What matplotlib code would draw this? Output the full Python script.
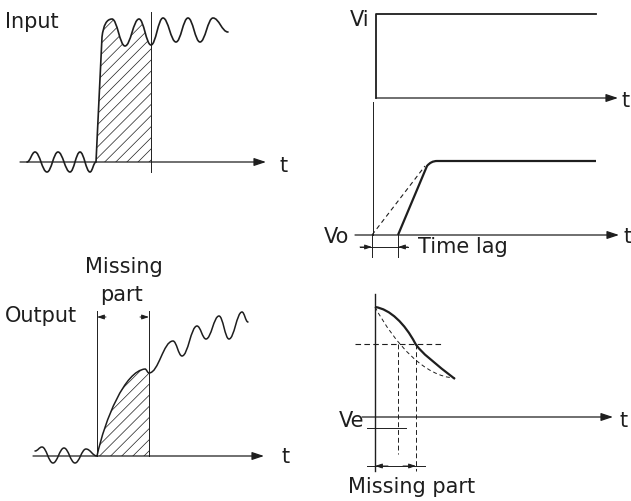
import matplotlib.pyplot as plt
from matplotlib.path import Path
from matplotlib.patches import PathPatch

# picture data, pixel coordinates (y grows downwards)
# left top: input signal
in_base = 163
in_cut = 151
in_pre = [(27, 163), (35, 153), (47, 173), (58, 153), (70, 173), (80, 153), (90, 173), (96, 163)]
in_rise = [(102, 38), (104, 20), (112, 20)]
in_top = [(112, 20), (125, 47), (139, 20), (151, 46)]
in_post = [(151, 46), (163, 19), (176, 43), (188, 19), (200, 43), (213, 19), (228, 33)]

# left bottom: output signal
out_base = 457
out_gap = [97, 149]
out_pre = [(35, 452), (42, 448), (53, 464), (64, 449), (75, 464), (86, 450), (97, 457)]
out_rise = [(105, 420), (125, 372), (145, 370)]
out_top = [(145, 370), (149, 374)]
out_post = [(149, 374), (173, 342), (182, 357), (197, 327), (206, 340), (219, 317),
            (229, 340), (242, 313), (248, 323)]

# right top: step response
vi_level, vi_base = 15, 99
vo_level, vo_base = 162, 236
vo_start, vo_lag = 372, 398
vo_knee = [(427, 167), (431, 162), (437, 162)]
step_end = 596

# right bottom: decay
ve_base = 418
ve_start = (375, 308)
decay_solid = [[(390, 310), (405, 325), (415, 344)], [(420, 353), (437, 366), (455, 380)]]
decay_dash = [[(395, 345), (425, 378), (455, 379)]]
ve_level = 345
ve_cross = [398, 416]

INK = "#1e1e1e"
FONT = dict(family="DejaVu Sans", fontsize=15, color=INK)


def wave(verts, codes, pts, k=0.4):
    # smooth run through extrema, flat tangent at each point
    for (x0, y0), (x1, y1) in zip(pts[:-1], pts[1:]):
        d = (x1 - x0) * k
        verts += [(x0 + d, y0), (x1 - d, y1), (x1, y1)]
        codes += [Path.CURVE4] * 3


def arrow(ax, x0, y0, x1, y1, lw=0.9, ms=12, style="-|>,head_length=0.6,head_width=0.2"):
    ax.annotate("", xy=(x1, y1), xytext=(x0, y0),
                arrowprops=dict(arrowstyle=style, lw=lw, color=INK, mutation_scale=ms,
                                shrinkA=0, shrinkB=0))


fig = plt.figure(figsize=(6.31, 5.02), dpi=100)
ax = fig.add_axes([0, 0, 1, 1])
ax.set_xlim(0, 631)
ax.set_ylim(502, 0)
ax.axis("off")
plt.rcParams["hatch.linewidth"] = 0.5
plt.rcParams["hatch.color"] = INK

# ---- input ----
v, c = [in_pre[0]], [Path.MOVETO]
wave(v, c, in_pre)
v.append(in_rise[0]); c.append(Path.LINETO)
v += in_rise[1:]; c += [Path.CURVE3] * 2
wave(v, c, in_top)
hv, hc = list(v), list(c)
wave(v, c, in_post)
ax.add_patch(PathPatch(Path(v, c), fill=False, lw=1.2, ec=INK, capstyle="round"))
start = len(in_pre) * 3 - 2
hv = [(in_pre[-1][0], in_base)] + hv[start:] + [(in_cut, in_base), (0, 0)]
hc = [Path.MOVETO] + hc[start:] + [Path.LINETO, Path.CLOSEPOLY]
ax.add_patch(PathPatch(Path(hv, hc), fc="none", ec=INK, lw=0, hatch="///"))
arrow(ax, 20, in_base, 266, in_base)
ax.plot([in_cut, in_cut], [13, 173], color=INK, lw=0.7)
ax.text(5, 28, "Input", **FONT)
ax.text(279, 172, "t", **FONT)

# ---- output ----
v, c = [out_pre[0]], [Path.MOVETO]
wave(v, c, out_pre)
v += out_rise; c += [Path.CURVE4] * 3
wave(v, c, out_top)
hv, hc = list(v), list(c)
wave(v, c, out_post)
ax.add_patch(PathPatch(Path(v, c), fill=False, lw=1.1, ec=INK, capstyle="round"))
start = len(out_pre) * 3 - 2
hv = [(out_gap[0], out_base)] + hv[start:] + [(out_gap[1], out_base), (0, 0)]
hc = [Path.MOVETO] + hc[start:] + [Path.LINETO, Path.CLOSEPOLY]
ax.add_patch(PathPatch(Path(hv, hc), fc="none", ec=INK, lw=0, hatch="///"))
arrow(ax, 33, out_base, 264, out_base)
for x in out_gap:
    ax.plot([x, x], [312, out_base], color=INK, lw=0.7)
arrow(ax, out_gap[0] + 9, 318, out_gap[0], 318, lw=0.7, ms=7)
arrow(ax, out_gap[1] - 9, 318, out_gap[1], 318, lw=0.7, ms=7)
ax.text(85, 273, "Missing", **FONT)
ax.text(100, 301, "part", **FONT)
ax.text(5, 322, "Output", **FONT)
ax.text(281, 463, "t", **FONT)

# ---- step input / delayed output ----
ax.plot([step_end, 376, 376], [vi_level, vi_level, vi_base], color=INK, lw=1.3)
arrow(ax, 376, vi_base, 618, vi_base)
ax.text(350, 26, "Vi", **FONT)
ax.text(622, 107, "t", **FONT)
ax.plot([373, 373], [103, vo_base], color=INK, lw=0.7)
arrow(ax, 355, vo_base, 619, vo_base)
ramp = Path([(vo_lag, vo_base)] + vo_knee + [(step_end, vo_level)],
            [Path.MOVETO, Path.LINETO, Path.CURVE3, Path.CURVE3, Path.LINETO])
ax.add_patch(PathPatch(ramp, fill=False, lw=1.6, ec=INK))
ax.plot([vo_start, vo_knee[0][0] - 2], [vo_base, vo_knee[0][1]], color=INK, lw=0.8,
        dashes=(4, 3))
for x in (vo_start, vo_lag):
    ax.plot([x, x], [vo_base, 258], color=INK, lw=0.7)
ax.plot([360, 408], [248, 248], color=INK, lw=0.7)
arrow(ax, 360, 248, vo_start, 248, lw=0.7, ms=7)
arrow(ax, 408, 248, vo_lag, 248, lw=0.7, ms=7)
ax.text(324, 243, "Vo", **FONT)
ax.text(624, 243, "t", **FONT)
ax.text(418, 253, "Time lag", **FONT)

# ---- decay ----
ax.plot([375, 375], [295, 472], color=INK, lw=1.0)
arrow(ax, 362, ve_base, 613, ve_base)
v, c = [ve_start], [Path.MOVETO]
for seg in decay_solid:
    v += seg; c += [Path.CURVE4] * 3
ax.add_patch(PathPatch(Path(v, c), fill=False, lw=1.6, ec=INK))
v, c = [ve_start], [Path.MOVETO]
for seg in decay_dash:
    v += seg; c += [Path.CURVE4] * 3
ax.add_patch(PathPatch(Path(v, c), fill=False, lw=0.7, ec=INK, ls=(0, (4, 3))))
ax.plot([355, 443], [ve_level, ve_level], color=INK, lw=0.8, dashes=(5, 3))
ax.plot([ve_cross[0]] * 2, [ve_level, 455], color=INK, lw=0.7, dashes=(5, 3))
ax.plot([ve_cross[1]] * 2, [ve_level, 472], color=INK, lw=0.7, dashes=(5, 3))
ax.plot([367, 406], [429, 429], color=INK, lw=0.7)
ax.plot([367, 425], [467, 467], color=INK, lw=0.7)
arrow(ax, 388, 467, 375, 467, lw=0.7, ms=7)
arrow(ax, 403, 467, ve_cross[1], 467, lw=0.7, ms=7)
ax.text(339, 427, "Ve", **FONT)
ax.text(619, 427, "t", **FONT)
ax.text(348, 493, "Missing part", **FONT)

fig.savefig("out.png", dpi=100, facecolor="white")
